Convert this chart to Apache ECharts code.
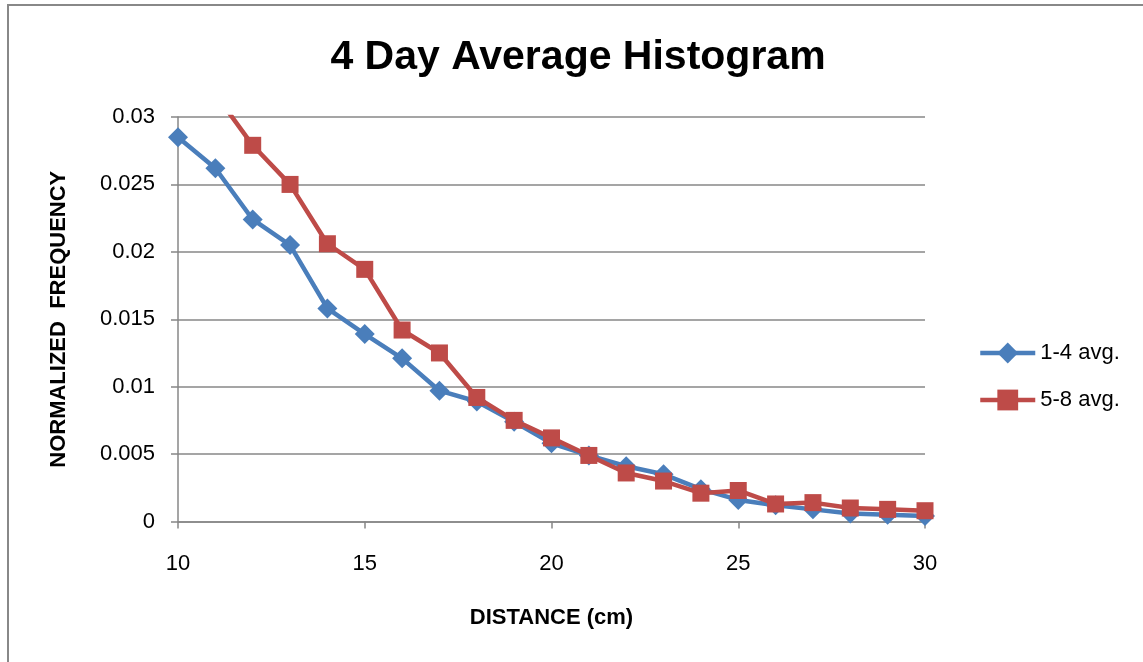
<!DOCTYPE html>
<html>
<head>
<meta charset="utf-8">
<title>4 Day Average Histogram</title>
<script src="https://cdn.jsdelivr.net/npm/echarts@6/dist/echarts.min.js"></script>
<style>
  html, body { margin: 0; padding: 0; background: #ffffff; }
  #chart { width: 1143px; height: 662px; }
</style>
</head>
<body>
<div id="chart"></div>
<script>
// Distance bins (cm)
const distances = [10, 11, 12, 13, 14, 15, 16, 17, 18, 19, 20, 21, 22, 23, 24, 25, 26, 27, 28, 29, 30];

// Normalized frequency, days 1-4 averaged
const avg1to4 = [0.0285, 0.0262, 0.0224, 0.0205, 0.0158, 0.0139, 0.0121, 0.0097, 0.0089, 0.0074,
                 0.0058, 0.0049, 0.0041, 0.0035, 0.0024, 0.0016, 0.0012, 0.0009, 0.0006, 0.0005, 0.0004];

// Normalized frequency, days 5-8 averaged
const avg5to8 = [0.0345, 0.0317, 0.0279, 0.0250, 0.0206, 0.0187, 0.0142, 0.0125, 0.0092, 0.0075,
                 0.0062, 0.0049, 0.0036, 0.0030, 0.0021, 0.0023, 0.0013, 0.0014, 0.0010, 0.0009, 0.0008];

const seriesNames = ['1-4 avg.', '5-8 avg.'];

const FONT = '"Liberation Sans", Arial, sans-serif';
const GRID_GRAY = '#878787';
const BLUE = '#4a7ebb';
const RED = '#be4b48';

function pairs(values) {
  return distances.map((d, i) => [d, values[i]]);
}

const chart = echarts.init(document.getElementById('chart'), null, { renderer: 'canvas' });

chart.setOption({
  backgroundColor: '#ffffff',
  animation: false,
  title: {
    text: '4 Day Average Histogram',
    left: 573,
    top: 32,
    textAlign: 'center',
    textStyle: { fontFamily: FONT, fontSize: 41, fontWeight: 'bold', color: '#000000' }
  },
  legend: {
    orient: 'vertical',
    left: 978,
    top: 342,
    padding: 0,
    itemWidth: 55,
    itemHeight: 26,
    itemGap: 25,
    lineStyle: { width: 4.5 },
    textStyle: { fontFamily: FONT, fontSize: 22, color: '#000000' },
    data: seriesNames
  },
  grid: { left: 178, right: 218, top: 117, bottom: 140.5, containLabel: false },
  xAxis: {
    type: 'value',
    min: 10,
    max: 30,
    interval: 5,
    name: 'DISTANCE (cm)',
    nameLocation: 'middle',
    nameGap: 85,
    nameTextStyle: { fontFamily: FONT, fontSize: 22, fontWeight: 'bold', color: '#000000' },
    axisLine: { show: true, onZero: false, lineStyle: { color: GRID_GRAY, width: 1.5 } },
    axisTick: { show: true, inside: false, length: 7, lineStyle: { color: GRID_GRAY, width: 1.5 } },
    axisLabel: { margin: 31, fontFamily: FONT, fontSize: 22, color: '#000000' },
    splitLine: { show: false }
  },
  yAxis: {
    type: 'value',
    min: 0,
    max: 0.03,
    interval: 0.005,
    name: 'NORMALIZED  FREQUENCY',
    nameLocation: 'middle',
    nameGap: 108,
    nameRotate: 90,
    nameTextStyle: { fontFamily: FONT, fontSize: 22, fontWeight: 'bold', color: '#000000' },
    axisLine: { show: true, lineStyle: { color: GRID_GRAY, width: 1.5 } },
    axisTick: { show: true, inside: false, length: 7, lineStyle: { color: GRID_GRAY, width: 1.5 } },
    axisLabel: { margin: 23, fontFamily: FONT, fontSize: 22, color: '#000000' },
    splitLine: { show: true, lineStyle: { color: GRID_GRAY, width: 1.5 } }
  },
  series: [
    {
      name: seriesNames[0],
      type: 'line',
      data: pairs(avg1to4),
      clip: true,
      symbol: 'diamond',
      symbolSize: 20,
      showAllSymbol: true,
      lineStyle: { color: BLUE, width: 4.5 },
      itemStyle: { color: BLUE, borderColor: BLUE, borderWidth: 0 },
      z: 2
    },
    {
      name: seriesNames[1],
      type: 'line',
      data: pairs(avg5to8),
      clip: true,
      symbol: 'rect',
      symbolSize: 17,
      showAllSymbol: true,
      lineStyle: { color: RED, width: 4.5 },
      itemStyle: { color: RED, borderColor: RED, borderWidth: 0 },
      z: 3
    }
  ],
  graphic: [
    {
      type: 'polyline',
      shape: { points: [[8, 662], [8, 5], [1143, 5]] },
      style: { stroke: '#888888', lineWidth: 2, fill: null },
      silent: true
    }
  ]
});
</script>
</body>
</html>
